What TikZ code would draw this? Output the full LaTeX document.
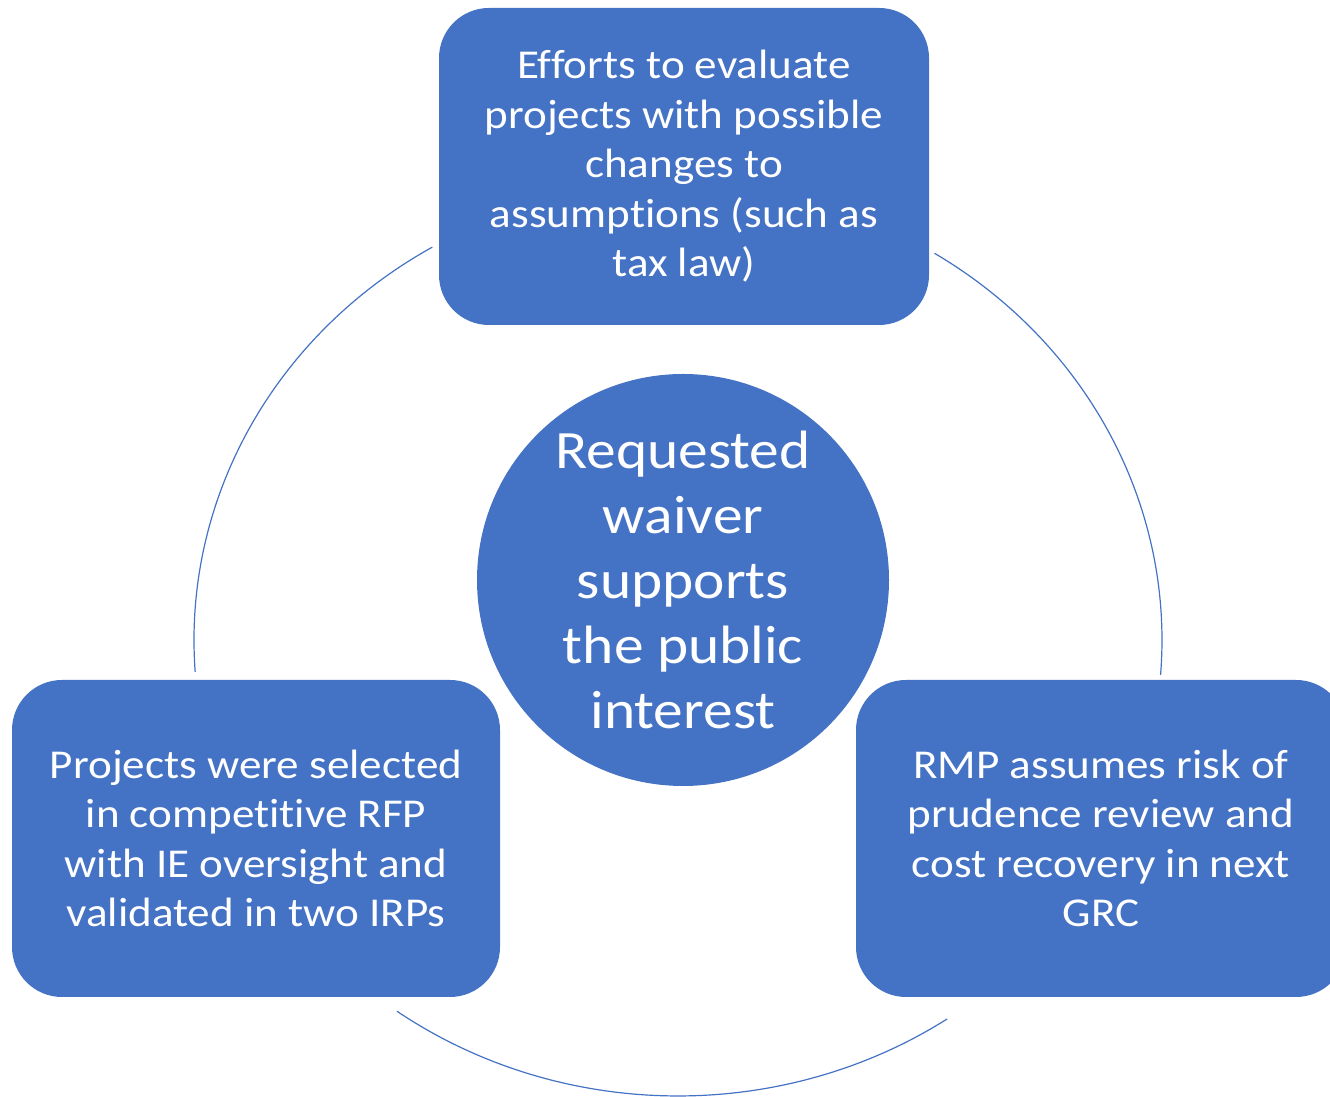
\documentclass[tikz,border=0pt]{standalone}
\usepackage{fontspec}
\setmainfont{Carlito}[FakeStretch=1.1, Ligatures=NoCommon]
\usetikzlibrary{positioning}

\definecolor{cycleblue}{HTML}{4472C4}

\begin{document}
\begin{tikzpicture}[x=1pt,y=1pt,
    cyclebox/.style={
        rectangle,
        rounded corners=50pt,
        fill=cycleblue,
        text=white,
        minimum width=490pt,
        minimum height=317pt,
        inner sep=0pt,
        align=center,
        font=\fontsize{41}{49.5}\selectfont
        },
    hubcircle/.style={
        circle,
        fill=cycleblue,
        text=white,
        minimum size=412pt,
        inner sep=0pt,
        align=center,
        font=\fontsize{54}{65}\selectfont
        },
    ring/.style={cycleblue, line width=1.2pt},
]

\useasboundingbox (0,0) rectangle (1330,1097);

\coordinate (ctr) at (678,457);

% the cycle behind the boxes
\draw[ring] ([shift={(120.5:484pt and 456pt)}]ctr)
        arc[start angle=120.5, end angle=184, x radius=484pt, y radius=456pt];
\draw[ring] ([shift={(58:484pt and 456pt)}]ctr)
        arc[start angle=58, end angle=-4.4, x radius=484pt, y radius=456pt];
\draw[ring] ([shift={(234.5:484pt and 456pt)}]ctr)
        arc[start angle=234.5, end angle=303.8, x radius=484pt, y radius=456pt];

\node[hubcircle] (hub) at (683,517)
    {Requested\\waiver\\supports\\the public\\interest};

\node[cyclebox] (effortsbox) at (684,930.5)
    {Efforts to evaluate\\projects with possible\\changes to\\assumptions (such as\\tax law)};
\node[cyclebox, minimum width=488pt] (rfpbox) at (256,258.5)
    {Projects were selected\\in competitive RFP\\with IE oversight and\\validated in two IRPs};
\node[cyclebox] (grcbox) at (1101,258.5)
    {RMP assumes risk of\\prudence review and\\cost recovery in next\\GRC};
\end{tikzpicture}
\end{document}
